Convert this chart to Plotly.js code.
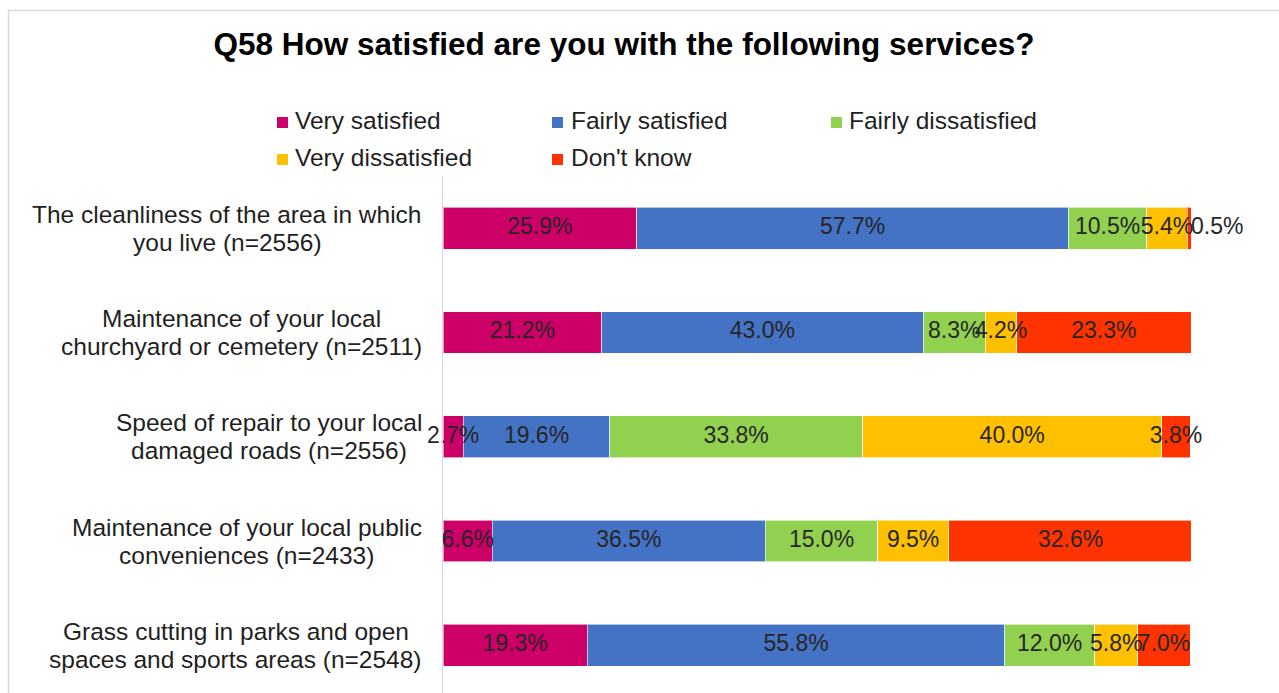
<!DOCTYPE html>
<html>
<head>
<meta charset="utf-8">
<script src="https://cdn.plot.ly/plotly-3.0.1.min.js"></script>
<style>
  html, body { margin: 0; padding: 0; background: #ffffff; }
  #chart { width: 1279px; height: 693px; }
</style>
</head>
<body>
<div id="chart"></div>
<script>
// ---- Data ----
const categoryLines = [
  ["The cleanliness of the area in which", "you live (n=2556)"],
  ["Maintenance of your local", "churchyard or cemetery (n=2511)"],
  ["Speed of repair to your local", "damaged roads (n=2556)"],
  ["Maintenance of your local public", "conveniences (n=2433)"],
  ["Grass cutting in parks and open", "spaces and sports areas (n=2548)"]
];
const categories = categoryLines.map(l => l.join(" "));
const seriesNames = ["Very satisfied", "Fairly satisfied", "Fairly dissatisfied", "Very dissatisfied", "Don't know"];
const verySatisfied      = [25.9, 21.2, 2.7, 6.6, 19.3];
const fairlySatisfied    = [57.7, 43.0, 19.6, 36.5, 55.8];
const fairlyDissatisfied = [10.5, 8.3, 33.8, 15.0, 12.0];
const veryDissatisfied   = [5.4, 4.2, 40.0, 9.5, 5.8];
const dontKnow           = [0.5, 23.3, 3.8, 32.6, 7.0];
const titleText = "Q58 How satisfied are you with the following services?";

// ---- Styles ----
const colors = ["#CC0066", "#4472C4", "#92D050", "#FFC000", "#FF3300"];
const seriesValues = [verySatisfied, fairlySatisfied, fairlyDissatisfied, veryDissatisfied, dontKnow];
const FONT = "Liberation Sans, Arial, sans-serif";
const LABEL_SIZE = 24.5;
const W = 1279, H = 693;
const M = { l: 443, r: 88, t: 176, b: 0 };
const PW = W - M.l - M.r, PH = H - M.t - M.b;
const px2x = px => (px - M.l) / PW;
const px2y = py => (H - M.b - py) / PH;

// bars
const traces = seriesValues.map((vals, i) => ({
  type: "bar",
  orientation: "h",
  name: seriesNames[i],
  y: categories,
  x: vals,
  marker: { color: colors[i], line: { color: "rgba(255,255,255,0.6)", width: 1 } },
  showlegend: false,
  hoverinfo: "name+x"
}));

// data labels, drawn above all bars, placed on the stacked scale
const cum = categories.map(() => 0);
seriesValues.forEach((vals, i) => {
  const xs = [], pos = [];
  vals.forEach((v, j) => {
    const outside = (i === seriesValues.length - 1 && v < 2);
    xs.push(outside ? cum[j] + v : cum[j] + v / 2);
    pos.push(outside ? "middle right" : "middle center");
    cum[j] += v;
  });
  traces.push({
    type: "scatter",
    mode: "text",
    x: xs,
    y: categories,
    text: vals.map(v => v.toFixed(1) + "%"),
    textposition: pos,
    textfont: { family: FONT, size: 23, color: "#262626" },
    cliponaxis: false,
    showlegend: false,
    hoverinfo: "skip"
  });
});

// measure text for category label blocks
const cv = document.createElement("canvas").getContext("2d");
cv.font = LABEL_SIZE + "px 'Liberation Sans'";
const annotations = [];
categoryLines.forEach((lines, k) => {
  const maxW = Math.max(...lines.map(t => cv.measureText(t).width));
  const cx = 422 - maxW / 2;
  lines.forEach((t, li) => {
    annotations.push({
      xref: "paper", yref: "y",
      x: px2x(cx), y: categories[k],
      xanchor: "center", yanchor: "middle",
      yshift: li === 0 ? 14 : -14,
      text: t, showarrow: false,
      font: { family: FONT, size: LABEL_SIZE, color: "#1f1f1f" }
    });
  });
});

// Legend (custom layout: 3 + 2 entries)
const legendPos = [
  { sx: 277, tx: 293, y: 121 },
  { sx: 552, tx: 569, y: 121 },
  { sx: 831, tx: 847, y: 121 },
  { sx: 277, tx: 293, y: 158 },
  { sx: 552, tx: 569, y: 158 }
];
const shapes = [];
seriesNames.forEach((n, i) => {
  const p = legendPos[i];
  annotations.push({
    xref: "paper", yref: "paper",
    x: px2x(p.tx), y: px2y(p.y),
    xanchor: "left", yanchor: "middle",
    text: n, showarrow: false,
    font: { family: FONT, size: LABEL_SIZE, color: "#1f1f1f" }
  });
  shapes.push({
    type: "rect", xref: "paper", yref: "paper",
    x0: px2x(p.sx), x1: px2x(p.sx + 11),
    y0: px2y(p.y + 7), y1: px2y(p.y - 4),
    fillcolor: colors[i], line: { width: 0 }
  });
});

// Chart-area border (top and left visible)
shapes.push({
  type: "rect", xref: "paper", yref: "paper",
  x0: px2x(8.5), x1: px2x(1300), y0: px2y(10.5), y1: px2y(760),
  line: { color: "#d9d9d9", width: 1.5 }, fillcolor: "rgba(0,0,0,0)", layer: "below"
});

const layout = {
  width: W, height: H,
  margin: M,
  paper_bgcolor: "#ffffff",
  plot_bgcolor: "#ffffff",
  barmode: "stack",
  bargap: 0.6,
  title: {
    text: "<b>" + titleText + "</b>",
    font: { family: FONT, size: 31.5, color: "#000000" },
    x: 624 / W, xanchor: "center", xref: "container",
    y: 1 - 44 / H, yanchor: "middle", yref: "container"
  },
  xaxis: {
    range: [0, 100],
    showticklabels: false, showgrid: false, zeroline: false,
    showline: false, ticks: "", fixedrange: true
  },
  yaxis: {
    type: "category",
    range: [(PH / 104.3) - 0.5, -0.5],
    showticklabels: false, showgrid: false, zeroline: false,
    showline: true, linecolor: "#d9d9d9", linewidth: 1.5, ticks: "",
    fixedrange: true
  },
  annotations: annotations,
  shapes: shapes,
  showlegend: false,
  font: { family: FONT }
};

Plotly.newPlot("chart", traces, layout, { displayModeBar: false, staticPlot: true });
</script>
</body>
</html>
